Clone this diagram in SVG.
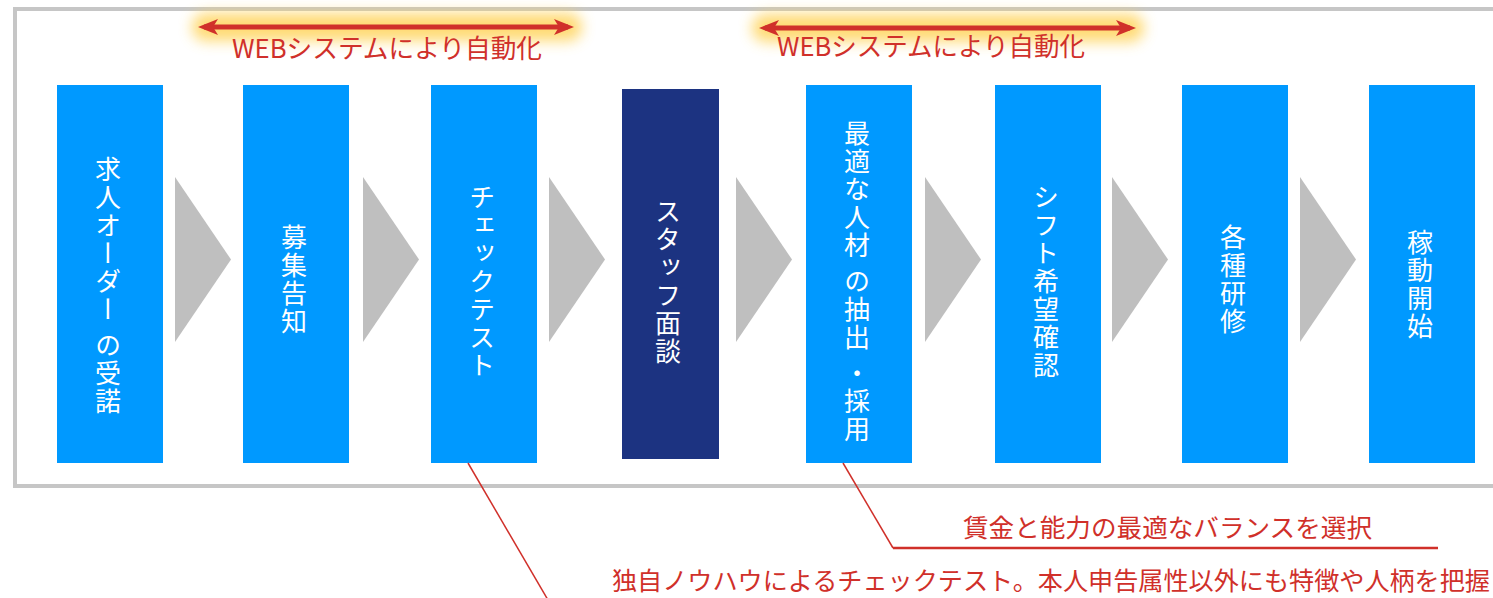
<svg xmlns="http://www.w3.org/2000/svg" width="1493" height="598" viewBox="0 0 1493 598">
<style>
.box{fill:#0099FF}
.dark{fill:#1C3381}
.chev{fill:#BFBFBF}
.vt{font-family:"Noto Sans CJK JP","Noto Sans",sans-serif;font-size:26px;font-weight:400;fill:#FFFFFF;writing-mode:vertical-rl;text-anchor:middle;letter-spacing:2px}
.rt{font-family:"Noto Sans CJK JP","Noto Sans",sans-serif;fill:#D0302A}
.web{font-size:26px}
.note{font-size:25px}
.red{stroke:#D0302A;fill:none}
.halo{fill:#FFD45C;opacity:0.85}
</style>
<defs>
<filter id="glow" filterUnits="userSpaceOnUse" x="0" y="-30" width="1493" height="110">
<feGaussianBlur stdDeviation="7"/>
</filter>
<marker id="ah" viewBox="0 0 20 16" refX="14" refY="8" markerWidth="20" markerHeight="16" markerUnits="userSpaceOnUse" orient="auto-start-reverse">
<path d="M0,0 L20,8 L0,16 L5,8 z" fill="#D0302A"/>
</marker>
</defs>
<rect id="frame" x="15" y="9" width="1500" height="477" fill="none" stroke="#C6C6C6" stroke-width="4"/>
<g id="automation-left">
<rect class="halo" x="192" y="13" width="390" height="28" rx="14" filter="url(#glow)"/>
<line x1="204" y1="27" x2="568" y2="27" stroke="#D0302A" stroke-width="5" marker-start="url(#ah)" marker-end="url(#ah)"/>
<text class="rt web" x="232" y="58" textLength="310" lengthAdjust="spacingAndGlyphs">WEBシステムにより自動化</text>
</g>
<g id="automation-right">
<rect class="halo" x="752" y="14" width="392" height="28" rx="14" filter="url(#glow)"/>
<line x1="765" y1="28" x2="1130" y2="28" stroke="#D0302A" stroke-width="5" marker-start="url(#ah)" marker-end="url(#ah)"/>
<text class="rt web" x="777" y="56" textLength="308" lengthAdjust="spacingAndGlyphs">WEBシステムにより自動化</text>
</g>
<g id="n1"><rect class="box" x="57" y="85" width="106" height="378"/><text class="vt" x="108" y="286">求人オーダー の受諾</text></g>
<g id="n2"><rect class="box" x="243" y="85" width="106" height="378"/><text class="vt" x="294" y="280">募集告知</text></g>
<g id="n3"><rect class="box" x="431" y="85" width="106" height="378"/><text class="vt" x="482" y="282">チェックテスト</text></g>
<g id="n4"><rect class="dark" x="622" y="89" width="97" height="370"/><text class="vt" x="668" y="282">スタッフ面談</text></g>
<g id="n5"><rect class="box" x="806" y="85" width="106" height="378"/><text class="vt" x="857" y="282">最適な人材 の抽出 ・採用</text></g>
<g id="n6"><rect class="box" x="995" y="85" width="106" height="378"/><text class="vt" x="1046" y="282">シフト希望確認</text></g>
<g id="n7"><rect class="box" x="1182" y="85" width="106" height="378"/><text class="vt" x="1233" y="280">各種研修</text></g>
<g id="n8"><rect class="box" x="1369" y="85" width="106" height="378"/><text class="vt" x="1420" y="285">稼動開始</text></g>
<g id="connectors">
<polygon class="chev" points="175,177 231,259.5 175,342"/>
<polygon class="chev" points="363,177 419,259.5 363,342"/>
<polygon class="chev" points="549,177 605,259.5 549,342"/>
<polygon class="chev" points="736,177 792,259.5 736,342"/>
<polygon class="chev" points="925,177 981,259.5 925,342"/>
<polygon class="chev" points="1112,177 1168,259.5 1112,342"/>
<polygon class="chev" points="1300,177 1356,259.5 1300,342"/>
<polyline class="red" stroke-width="1.5" points="468,463 548,600"/>
<polyline class="red" stroke-width="1.5" points="843,463 893,548"/>
<line class="red" stroke-width="2.5" x1="893" y1="548" x2="1438" y2="548"/>
</g>
<g id="notes">
<text class="rt note" x="963" y="537" textLength="409" lengthAdjust="spacingAndGlyphs">賃金と能力の最適なバランスを選択</text>
<text class="rt note" x="612" y="590" textLength="878" lengthAdjust="spacingAndGlyphs">独自ノウハウによるチェックテスト。本人申告属性以外にも特徴や人柄を把握</text>
</g>
</svg>
